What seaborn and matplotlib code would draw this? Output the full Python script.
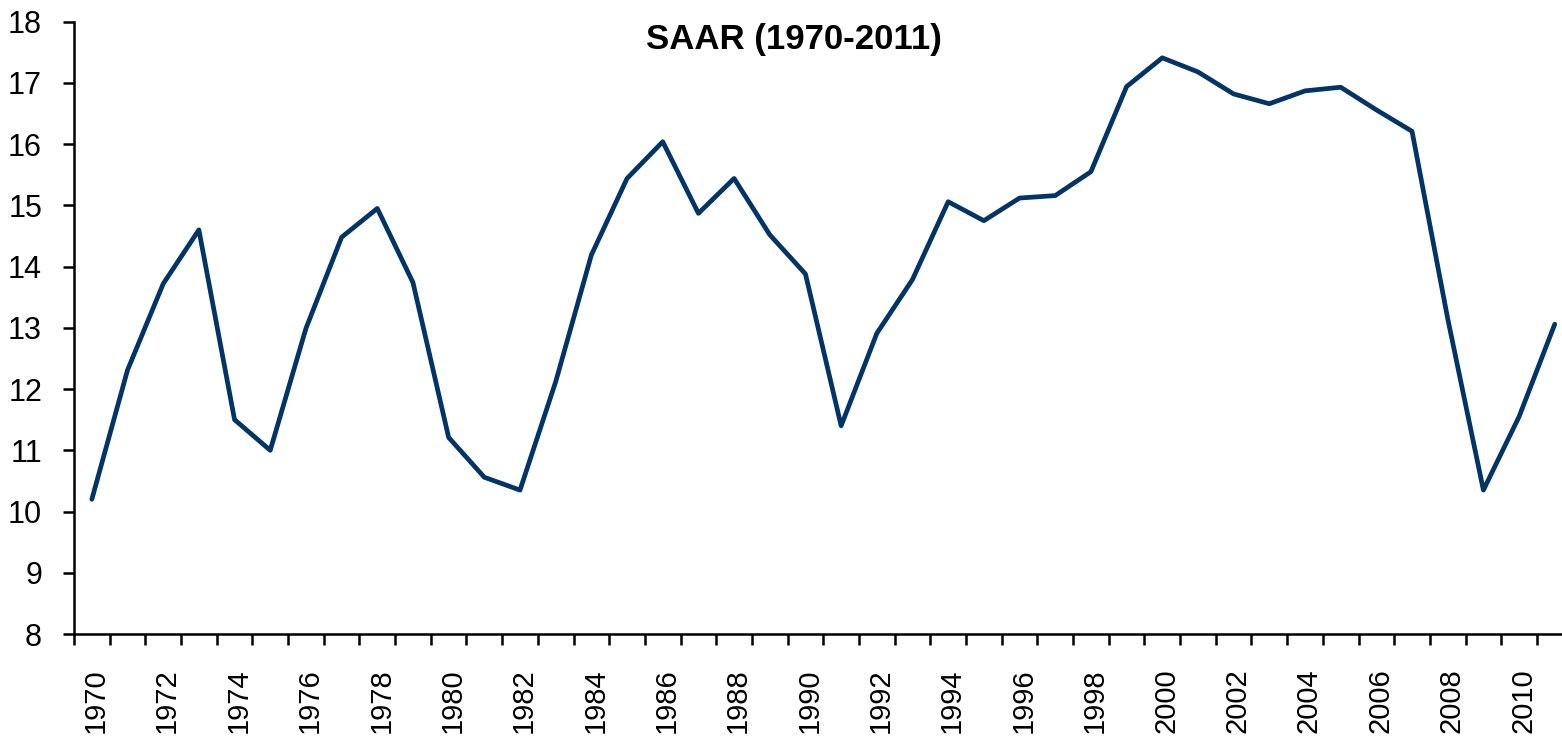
import numpy as np
import pandas as pd
import matplotlib
matplotlib.use("Agg")
import matplotlib.pyplot as plt
import matplotlib.transforms as mtransforms
import seaborn as sns

years = list(range(1970, 2012))
saar = [10.20, 12.31, 13.72, 14.60, 11.50, 11.00, 12.99, 14.48, 14.95, 13.74,
        11.21, 10.56, 10.35, 12.12, 14.19, 15.44, 16.04, 14.87, 15.44, 14.52,
        13.88, 11.40, 12.91, 13.79, 15.06, 14.75, 15.12, 15.16, 15.55, 16.94,
        17.41, 17.18, 16.82, 16.66, 16.87, 16.93, 16.56, 16.21, 13.15, 10.35,
        11.55, 13.06]
year_labels = [str(y) for y in range(1970, 2011, 2)]
y_ticks = list(range(8, 19))
title = "SAAR (1970-2011)"

sns.set_theme(style="white")
plt.rcParams['font.family'] = ['Liberation Sans', 'DejaVu Sans']
plt.rcParams['text.color'] = 'black'
plt.rcParams['xtick.color'] = 'black'
plt.rcParams['ytick.color'] = 'black'
plt.rcParams['axes.labelcolor'] = 'black'

fig = plt.figure(figsize=(15.62, 7.39), dpi=100)
ax = fig.add_axes([74/1562, 1-634/739, (1572.6-74)/1562, (634-21.7)/739])

df = pd.DataFrame({"year": years, "saar": saar})
sns.lineplot(data=df, x="year", y="saar", ax=ax, color="#003366", linewidth=3.4,
             solid_joinstyle="round", solid_capstyle="round", clip_on=False)

ax.set_xlim(years[0]-0.5, years[-1]+0.5)
ax.set_ylim(8, 18)
ax.set_yticks(y_ticks)
ax.set_yticklabels([str(v) for v in y_ticks])

# Major ticks at category boundaries, labels on minor ticks at centres
ax.set_xticks(np.arange(years[0]-0.5, years[-1]+1.0, 1.0))
ax.set_xticklabels([])
label_pos = [int(s) for s in year_labels]
ax.set_xticks(label_pos, minor=True)
ax.set_xticklabels(year_labels, minor=True, rotation=90, fontsize=21)
ax.tick_params(axis="x", which="minor", length=0, pad=25, labelcolor="black")
ax.tick_params(axis="x", which="major", length=8, width=1.8, color="black",
               direction="out", bottom=True)
ax.tick_params(axis="y", length=8, width=1.8, color="black", direction="out",
               left=True, labelsize=22, pad=15, labelcolor="black")
for lab in ax.get_xticklabels(minor=True):
    lab.set_transform(lab.get_transform() +
                      mtransforms.ScaledTranslation(4/100, 0, fig.dpi_scale_trans))

ax.set_xlabel("")
ax.set_ylabel("")
sns.despine(ax=ax)
for s in ["left", "bottom"]:
    ax.spines[s].set_color("black")
    ax.spines[s].set_linewidth(1.8)

fig.text(794/1562, 1-40/739, title, ha="center", va="center",
         fontsize=25, fontweight="bold", color="black")

fig.savefig("out.png", dpi=100)
